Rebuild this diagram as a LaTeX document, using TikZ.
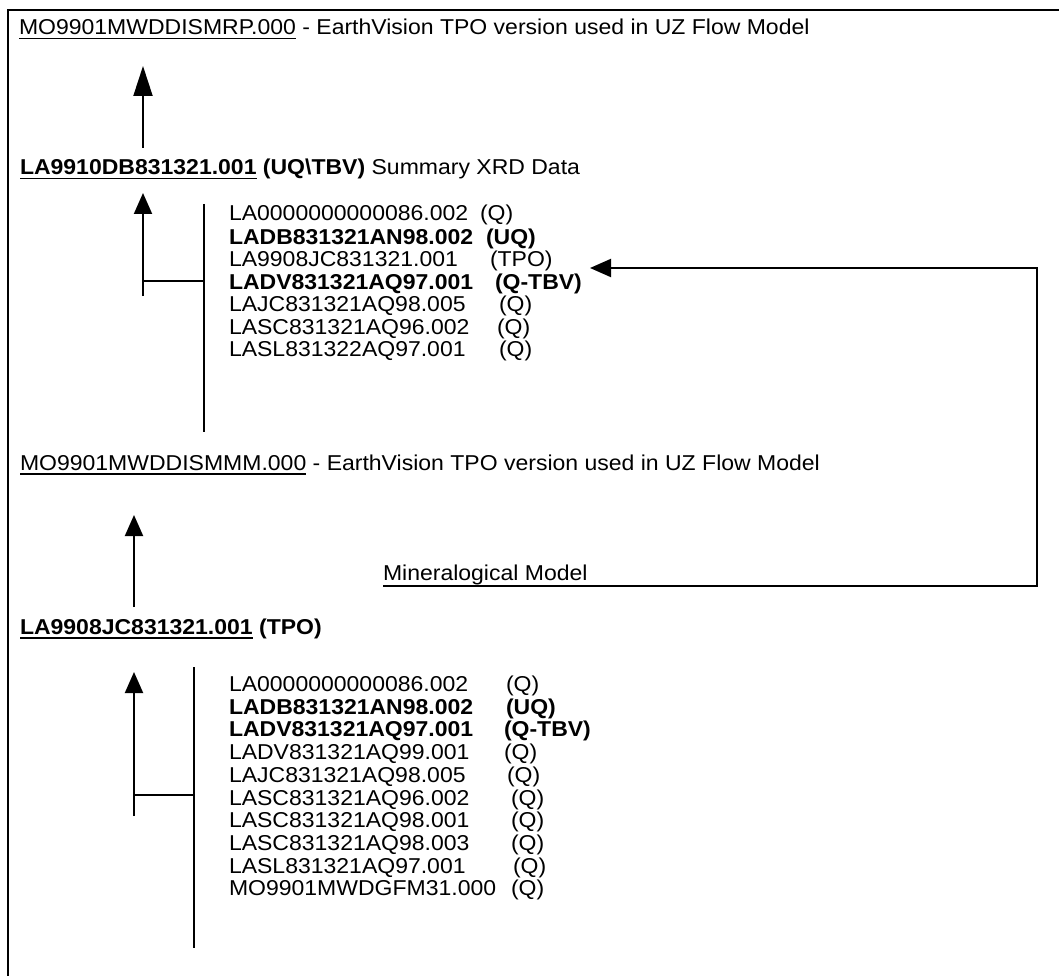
\documentclass[tikz,border=0pt]{standalone}
\usepackage{fontspec}
\setmainfont[FakeStretch=1.07]{Liberation Sans}
\usetikzlibrary{arrows.meta}
\newcommand\ulx[1]{\setbox0=\hbox{#1}\rlap{\rule[-4.5pt]{\wd0}{1.6pt}}\box0\relax}
\begin{document}
\begin{tikzpicture}[x=1pt,y=-1pt,
  txt/.style={anchor=base west,inner sep=0pt,outer sep=0pt,font=\fontsize{21.5}{24}\selectfont},
  ln/.style={line width=2pt},
  arr/.style={line width=2pt,-{Triangle[length=21pt,width=18pt]}},
  bigarr/.style={line width=2pt,-{Triangle[length=30pt,width=19pt]}}]
\useasboundingbox (0,0) rectangle (1059,976);
\fill[white] (0,0) rectangle (1059,976);
\draw[line width=2.5pt] (8,976) -- (8,10) -- (1059,10);

% top line
\node[txt] (l1) at (19,35) {\ulx{MO9901MWDDISMRP.000} - EarthVision TPO version used in UZ Flow Model};
\coordinate (a1s) at (143,148);
\coordinate (a1t) at (143,66);
\draw[bigarr] (a1s) -- (a1t);

% second line
\node[txt] (l2) at (20,175) {\ulx{\textbf{LA9910DB831321.001}} \textbf{(UQ\textbackslash TBV)} Summary XRD Data};
\coordinate (a2s) at (143,296);
\coordinate (a2t) at (143,193);
\coordinate (a2j) at (143,281);
\coordinate (b1t) at (204,204);
\coordinate (b1b) at (204,432);
\coordinate (b1j) at (204,281);
\draw[arr] (a2s) -- (a2t);
\draw[ln] (a2j) -- (b1j);
\draw[ln] (b1t) -- (b1b);

% list 1
\node[txt] (p1a) at (229,221) {LA0000000000086.002};
\node[txt] (q1a) at (480,221) {(Q)};
\node[txt] (p1b) at (229,244) {\textbf{LADB831321AN98.002}};
\node[txt] (q1b) at (486,244) {\textbf{(UQ)}};
\node[txt] (p1c) at (229,266) {LA9908JC831321.001};
\node[txt] (q1c) at (490,266) {(TPO)};
\node[txt] (p1d) at (229,289) {\textbf{LADV831321AQ97.001}};
\node[txt] (q1d) at (495,289) {\textbf{(Q-TBV)}};
\node[txt] (p1e) at (229,311) {LAJC831321AQ98.005};
\node[txt] (q1e) at (499,311) {(Q)};
\node[txt] (p1f) at (229,334) {LASC831321AQ96.002};
\node[txt] (q1f) at (497,334) {(Q)};
\node[txt] (p1g) at (229,356) {LASL831322AQ97.001};
\node[txt] (q1g) at (499,356) {(Q)};

% third line
\node[txt] (l3) at (20,470) {\ulx{MO9901MWDDISMMM.000} - EarthVision TPO version used in UZ Flow Model};
\coordinate (a3s) at (134,607);
\coordinate (a3t) at (134,515);
\draw[arr] (a3s) -- (a3t);

% mineralogical model feedback
\node[txt] (mm) at (383,580) {Mineralogical Model};
\coordinate (f0) at (383,586);
\coordinate (f1) at (1037,586);
\coordinate (f2) at (1037,268);
\coordinate (f3) at (590,268);
\draw[arr] (f0) -- (f1) -- (f2) -- (f3);

% fourth line
\node[txt] (l4) at (20,634) {\ulx{\textbf{LA9908JC831321.001}} \textbf{(TPO)}};
\coordinate (a4s) at (134,816);
\coordinate (a4t) at (134,672);
\coordinate (a4j) at (134,795);
\coordinate (b2t) at (194,667);
\coordinate (b2b) at (194,948);
\coordinate (b2j) at (194,795);
\draw[arr] (a4s) -- (a4t);
\draw[ln] (a4j) -- (b2j);
\draw[ln] (b2t) -- (b2b);

% list 2
\node[txt] (p2a) at (229,691) {LA0000000000086.002};
\node[txt] (q2a) at (506,691) {(Q)};
\node[txt] (p2b) at (229,714) {\textbf{LADB831321AN98.002}};
\node[txt] (q2b) at (506,714) {\textbf{(UQ)}};
\node[txt] (p2c) at (229,736) {\textbf{LADV831321AQ97.001}};
\node[txt] (q2c) at (504,736) {\textbf{(Q-TBV)}};
\node[txt] (p2d) at (229,759) {LADV831321AQ99.001};
\node[txt] (q2d) at (504,759) {(Q)};
\node[txt] (p2e) at (229,782) {LAJC831321AQ98.005};
\node[txt] (q2e) at (507,782) {(Q)};
\node[txt] (p2f) at (229,805) {LASC831321AQ96.002};
\node[txt] (q2f) at (511,805) {(Q)};
\node[txt] (p2g) at (229,827) {LASC831321AQ98.001};
\node[txt] (q2g) at (511,827) {(Q)};
\node[txt] (p2h) at (229,850) {LASC831321AQ98.003};
\node[txt] (q2h) at (511,850) {(Q)};
\node[txt] (p2i) at (229,873) {LASL831321AQ97.001};
\node[txt] (q2i) at (513,873) {(Q)};
\node[txt] (p2j) at (229,895) {MO9901MWDGFM31.000};
\node[txt] (q2j) at (511,895) {(Q)};
\end{tikzpicture}
\end{document}
